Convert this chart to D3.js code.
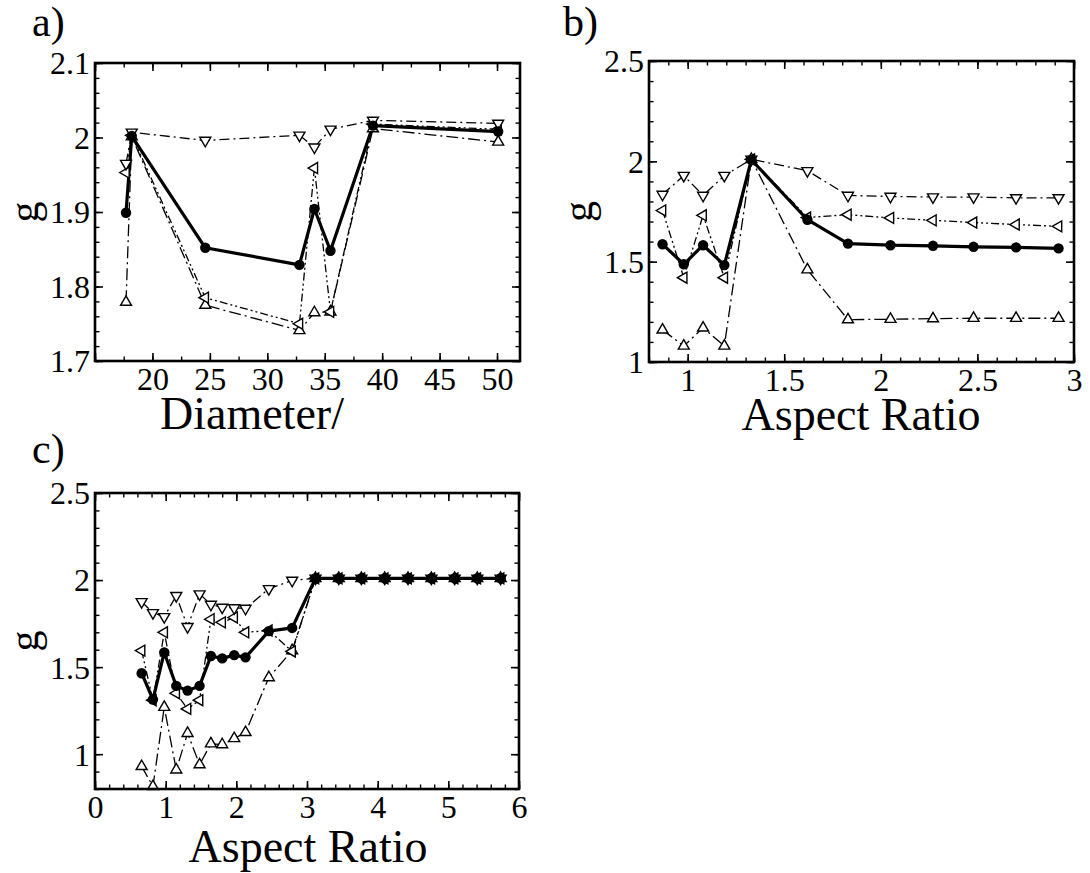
<!DOCTYPE html>
<html lang="en">
<head>
<meta charset="UTF-8">
<title>g factor panels</title>
<script src="https://d3js.org/d3.v7.min.js"></script>
<style>
    body { margin: 0; background: #fff; }
    svg text { font-family: 'Liberation Serif', 'Times New Roman', serif; fill: #000; }
</style>
</head>
<body>
<script>
    // ---- panel a) g against diameter
    var diamX      = [17.7, 18.2, 24.6, 32.8, 34.1, 35.5, 39.2, 50.1];
    var diamCircle = [1.899, 2.002, 1.852, 1.829, 1.904, 1.848, 2.016, 2.008];
    var diamDown   = [1.965, 2.007, 1.996, 2.003, 1.987, 2.011, 2.023, 2.019];
    var diamLeft   = [1.953, 2.003, 1.785, 1.750, 1.959, 1.766, 2.018, 2.011];
    var diamUp     = [1.779, 2.001, 1.775, 1.741, 1.765, 1.766, 2.012, 1.994];

    // ---- panel b) g against aspect ratio
    var arB     = [0.87, 0.98, 1.08, 1.19, 1.33, 1.62, 1.83, 2.05, 2.27, 2.48, 2.70, 2.92];
    var bCircle = [1.587, 1.487, 1.582, 1.483, 2.008, 1.709, 1.590, 1.582, 1.579, 1.574, 1.571, 1.566];
    var bDown   = [1.835, 1.929, 1.830, 1.929, 2.010, 1.953, 1.830, 1.825, 1.822, 1.822, 1.818, 1.818];
    var bLeft   = [1.755, 1.420, 1.731, 1.420, 2.010, 1.720, 1.734, 1.718, 1.706, 1.695, 1.685, 1.676];
    var bUp     = [1.160, 1.080, 1.170, 1.080, 2.010, 1.460, 1.211, 1.213, 1.216, 1.218, 1.218, 1.218];

    // ---- panel c) g against aspect ratio, wider range
    var arC     = [0.66, 0.82, 0.98, 1.15, 1.31, 1.48, 1.64, 1.80, 1.97, 2.13, 2.46, 2.79,
                   3.12, 3.45, 3.77, 4.10, 4.43, 4.76, 5.09, 5.41, 5.74];
    var cCircle = [1.465, 1.314, 1.584, 1.392, 1.365, 1.392, 1.564, 1.550, 1.569, 1.556, 1.707, 1.725,
                   2.01, 2.01, 2.01, 2.01, 2.01, 2.01, 2.01, 2.01, 2.01];
    var cDown   = [1.875, 1.812, 1.789, 1.910, 1.732, 1.920, 1.860, 1.843, 1.840, 1.837, 1.950, 1.998,
                   2.01, 2.01, 2.01, 2.01, 2.01, 2.01, 2.01, 2.01, 2.01];
    var cLeft   = [1.595, 1.310, 1.700, 1.350, 1.260, 1.310, 1.775, 1.757, 1.785, 1.700, 1.710, 1.590,
                   2.01, 2.01, 2.01, 2.01, 2.01, 2.01, 2.01, 2.01, 2.01];
    var cUp     = [0.930, 0.815, 1.270, 0.910, 1.120, 0.940, 1.060, 1.055, 1.090, 1.125, 1.440, 1.595,
                   2.01, 2.01, 2.01, 2.01, 2.01, 2.01, 2.01, 2.01, 2.01];

    // tick labels
    var aXTicks = [20, 25, 30, 35, 40, 45, 50];
    var aYTicks = [1.7, 1.8, 1.9, 2.0, 2.1];
    var bXTicks = [1, 1.5, 2, 2.5, 3];
    var bYTicks = [1, 1.5, 2, 2.5];
    var cXTicks = [0, 1, 2, 3, 4, 5, 6];
    var cYTicks = [1, 1.5, 2, 2.5];

    var FONT = "'Liberation Serif', 'Times New Roman', serif";
    var fmt = function (d) { return String(+d.toFixed(2)); };

    var svg = d3.select("body").append("svg")
        .attr("width", 1090)
        .attr("height", 873);

    // marker / line style per series kind
    var styles = {
        up:     {rot: 0,   dash: "12,4,2,4",      width: 1.3},
        left:   {rot: -90, dash: "8,3,2,3,2,3",   width: 1.3},
        down:   {rot: 180, dash: "10,4,2,4",      width: 1.3},
        circle: {rot: 0,   dash: null,            width: 3.2}
    };

    function stepRange(domain, step) {
        var out = [];
        var start = Math.ceil(domain[0] / step - 1e-6);
        var end = Math.floor(domain[1] / step + 1e-6);
        for (var i = start; i <= end; i++) out.push(+(i * step).toFixed(4));
        return out;
    }

    function drawPanel(p) {
        var x = d3.scaleLinear().domain(p.xDomain).range([p.left, p.right]);
        var y = d3.scaleLinear().domain(p.yDomain).range([p.bottom, p.top]);
        var g = svg.append("g");

        var xMinor = stepRange(p.xDomain, p.xMinor);
        var yMinor = stepRange(p.yDomain, p.yMinor);
        var xMajor = stepRange(p.xDomain, p.xMajor);
        var yMajor = stepRange(p.yDomain, p.yMajor);

        // inward ticks on all four sides
        var tickSets = [
            {axis: d3.axisBottom(x), at: "translate(0," + p.bottom + ")", minor: xMinor, major: xMajor},
            {axis: d3.axisTop(x), at: "translate(0," + p.top + ")", minor: xMinor, major: xMajor},
            {axis: d3.axisLeft(y), at: "translate(" + p.left + ",0)", minor: yMinor, major: yMajor},
            {axis: d3.axisRight(y), at: "translate(" + p.right + ",0)", minor: yMinor, major: yMajor}
        ];
        tickSets.forEach(function (t) {
            g.append("g").attr("transform", t.at)
                .call(t.axis.tickValues(t.minor).tickSize(-4.5).tickFormat(""))
                .call(function (s) { s.select(".domain").remove(); })
                .selectAll("line").attr("stroke-width", 1.4);
            g.append("g").attr("transform", t.at)
                .call(t.axis.tickValues(t.major).tickSize(-8).tickFormat(""))
                .call(function (s) { s.select(".domain").remove(); })
                .selectAll("line").attr("stroke-width", 1.6);
        });

        // tick labels
        var xl = g.append("g").attr("transform", "translate(0," + p.bottom + ")")
            .call(d3.axisBottom(x).tickValues(p.xTicks).tickSize(0).tickFormat(fmt));
        xl.select(".domain").remove();
        xl.attr("font-family", FONT).attr("font-size", 32);
        xl.selectAll("text").attr("y", 29).attr("dy", null)
            .style("font-family", FONT).style("font-size", "32px");

        var yl = g.append("g").attr("transform", "translate(" + p.left + ",0)")
            .call(d3.axisLeft(y).tickValues(p.yTicks).tickSize(0).tickPadding(5).tickFormat(fmt));
        yl.select(".domain").remove();
        yl.attr("font-family", FONT).attr("font-size", 32);
        yl.selectAll("text").attr("dy", "0.34em")
            .style("font-family", FONT).style("font-size", "32px");

        // series: lines first, markers on top
        var plot = g.append("g");
        p.series.forEach(function (s) {
            var st = styles[s.kind];
            var line = d3.line()
                .x(function (d, i) { return x(p.xs[i]); })
                .y(function (d) { return y(d); });
            plot.append("path")
                .datum(s.values)
                .attr("d", line)
                .attr("fill", "none")
                .attr("stroke", "#000")
                .attr("stroke-width", st.width)
                .attr("stroke-dasharray", st.dash)
                .attr("stroke-linejoin", "round");
        });
        p.series.forEach(function (s) {
            var st = styles[s.kind];
            var pts = plot.append("g").selectAll("g")
                .data(s.values)
                .enter();
            if (s.kind === "circle") {
                pts.append("circle")
                    .attr("cx", function (d, i) { return x(p.xs[i]); })
                    .attr("cy", function (d) { return y(d); })
                    .attr("r", 5.2)
                    .attr("fill", "#000");
            } else {
                pts.append("path")
                    .attr("d", d3.symbol(d3.symbolTriangle, 52))
                    .attr("transform", function (d, i) {
                        return "translate(" + x(p.xs[i]) + "," + y(d) + ") rotate(" + st.rot + ")";
                    })
                    .attr("fill", "#fff")
                    .attr("stroke", "#000")
                    .attr("stroke-width", 1.4);
            }
        });

        // frame
        g.append("rect")
            .attr("x", p.left).attr("y", p.top)
            .attr("width", p.right - p.left).attr("height", p.bottom - p.top)
            .attr("fill", "none").attr("stroke", "#000").attr("stroke-width", 2.6);

        // titles
        g.append("text")
            .attr("x", p.label[0]).attr("y", p.label[1])
            .style("font-size", "42px")
            .text(p.name);
        g.append("text")
            .attr("transform", "translate(" + p.gPos + "," + ((p.top + p.bottom) / 2) + ") rotate(-90)")
            .attr("text-anchor", "middle")
            .style("font-size", "42px")
            .text("g");
        g.append("text")
            .attr("x", p.xTitle[0]).attr("y", p.xTitle[1])
            .attr("text-anchor", p.xTitle[2])
            .style("font-size", "46px")
            .text(p.xLabel);
    }

    drawPanel({
        name: "a)", label: [32, 36],
        left: 95, right: 520, top: 63, bottom: 361,
        xDomain: [15, 52], yDomain: [1.7, 2.1],
        xMajor: 5, xMinor: 2.5, yMajor: 0.1, yMinor: 0.02,
        xTicks: aXTicks, yTicks: aYTicks,
        xLabel: "Diameter/", xTitle: [160, 429, "start"], gPos: 38,
        xs: diamX,
        series: [
            {kind: "up", values: diamUp},
            {kind: "left", values: diamLeft},
            {kind: "down", values: diamDown},
            {kind: "circle", values: diamCircle}
        ]
    });

    drawPanel({
        name: "b)", label: [563, 36],
        left: 649, right: 1074, top: 61, bottom: 362,
        xDomain: [0.8, 3], yDomain: [1, 2.5],
        xMajor: 0.5, xMinor: 0.1, yMajor: 0.5, yMinor: 0.1,
        xTicks: bXTicks, yTicks: bYTicks,
        xLabel: "Aspect Ratio", xTitle: [861, 430, "middle"], gPos: 592,
        xs: arB,
        series: [
            {kind: "up", values: bUp},
            {kind: "left", values: bLeft},
            {kind: "down", values: bDown},
            {kind: "circle", values: bCircle}
        ]
    });

    drawPanel({
        name: "c)", label: [32, 463],
        left: 95, right: 519, top: 493, bottom: 789,
        xDomain: [0, 6], yDomain: [0.8, 2.5],
        xMajor: 1, xMinor: 0.2, yMajor: 0.5, yMinor: 0.1,
        xTicks: cXTicks, yTicks: cYTicks,
        xLabel: "Aspect Ratio", xTitle: [308, 862, "middle"], gPos: 38,
        xs: arC,
        series: [
            {kind: "up", values: cUp},
            {kind: "left", values: cLeft},
            {kind: "down", values: cDown},
            {kind: "circle", values: cCircle}
        ]
    });
</script>
</body>
</html>
